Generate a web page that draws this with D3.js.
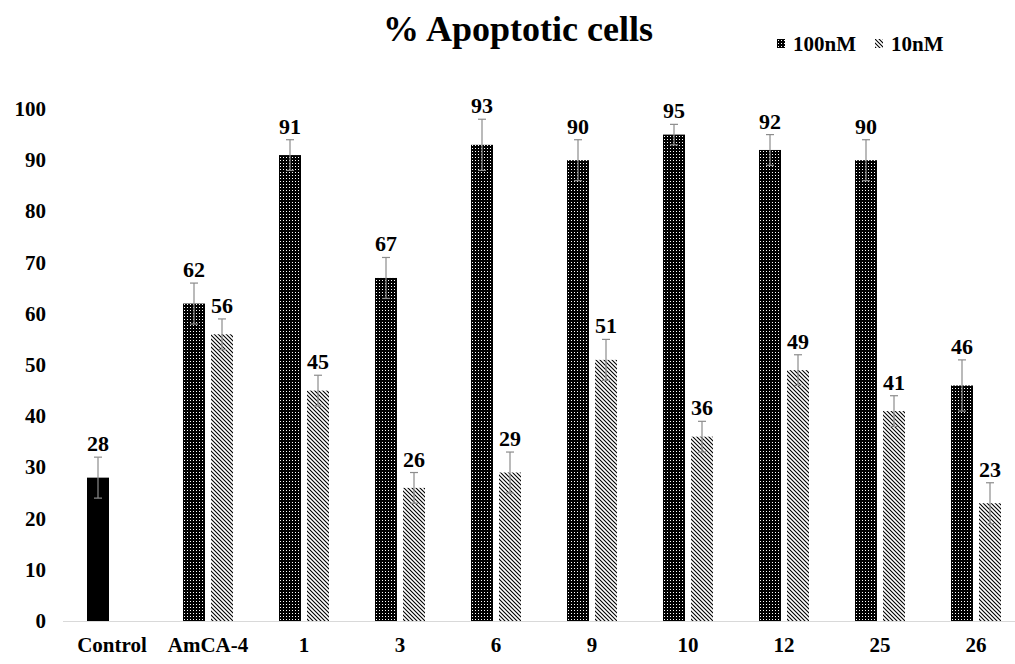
<!DOCTYPE html>
<html>
<head>
<meta charset="utf-8">
<script src="https://cdn.jsdelivr.net/npm/d3@7"></script>
<style>
  body { margin: 0; background: #fff; }
</style>
</head>
<body>
<div id="chart"></div>
<script>
// categories and values
var categories = ["Control", "AmCA-4", "1", "3", "6", "9", "10", "12", "25", "26"];
var high = [28, 62, 91, 67, 93, 90, 95, 92, 90, 46];          // 100nM (Control drawn solid)
var highErr = [4, 4, 3, 4, 5, 4, 2, 3, 4, 5];
var low = [null, 56, 45, 26, 29, 51, 36, 49, 41, 23];         // 10nM
var lowErr = [null, 3, 3, 3, 4, 4, 3, 3, 3, 4];
var yTicks = [0, 10, 20, 30, 40, 50, 60, 70, 80, 90, 100];

var width = 1015, height = 664;
var FONT = "Liberation Serif";

var svg = d3.select("#chart").append("svg")
    .attr("width", width)
    .attr("height", height);

// every label goes through here so the font is set on the node itself
function label(sel, size) {
    return sel.attr("font-family", FONT)
        .attr("font-weight", "bold")
        .attr("font-size", size)
        .attr("fill", "#000");
}

var defs = svg.append("defs");

// dotted fill for 100nM
var dots = defs.append("pattern")
    .attr("id", "dots")
    .attr("patternUnits", "userSpaceOnUse")
    .attr("width", 3).attr("height", 3);
dots.append("rect").attr("width", 3).attr("height", 3).attr("fill", "#000");
dots.append("rect").attr("x", 1).attr("y", 1).attr("width", 1).attr("height", 1).attr("fill", "#fff");

// hatched fill for 10nM
var hatch = defs.append("pattern")
    .attr("id", "hatch")
    .attr("patternUnits", "userSpaceOnUse")
    .attr("width", 4).attr("height", 4);
hatch.append("rect").attr("width", 4).attr("height", 4).attr("fill", "#fff");
hatch.append("path")
    .attr("d", "M-1,-1 L5,5 M-1,3 L1,5 M3,-1 L5,1")
    .attr("stroke", "#000")
    .attr("stroke-width", 1.1);

var x = d3.scaleBand()
    .domain(categories)
    .range([64, 1024])
    .padding(0);

var y = d3.scaleLinear()
    .domain([0, 100])
    .range([621, 109]);

var barW = 22, gap = 3;

// title
label(svg.append("text"), 36)
    .attr("x", 518)
    .attr("y", 41)
    .attr("text-anchor", "middle")
    .text("% Apoptotic cells");

// legend
var legend = [
    { name: "100nM", fill: "url(#dots)", x: 777 },
    { name: "10nM", fill: "url(#hatch)", x: 875 }
];
var lg = svg.selectAll(".legend").data(legend).enter().append("g")
    .attr("class", "legend")
    .attr("transform", function (d) { return "translate(" + d.x + ",39)"; });
lg.append("rect")
    .attr("width", 8).attr("height", 9)
    .attr("fill", function (d) { return d.fill; });
label(lg.append("text"), 21)
    .attr("x", 16)
    .attr("y", 12)
    .text(function (d) { return d.name; });

// y tick labels (no axis line)
label(svg.selectAll(".ytick").data(yTicks).enter().append("text"), 21)
    .attr("class", "ytick")
    .attr("x", 46)
    .attr("y", function (d) { return y(d) + 7; })
    .attr("text-anchor", "end")
    .text(function (d) { return d; });

// x axis baseline
svg.append("line")
    .attr("x1", 63).attr("x2", width)
    .attr("y1", y(0) + 0.5).attr("y2", y(0) + 0.5)
    .attr("stroke", "#d9d9d9")
    .attr("stroke-width", 1);

// category labels
label(svg.selectAll(".xlabel").data(categories).enter().append("text"), 21)
    .attr("class", "xlabel")
    .attr("x", function (d) { return x(d) + x.bandwidth() / 2; })
    .attr("y", 652)
    .attr("text-anchor", "middle")
    .text(function (d) { return d; });

// build bar records
var bars = [];
categories.forEach(function (c, i) {
    var cx = x(c) + x.bandwidth() / 2;
    bars.push({ cat: c, v: high[i], e: highErr[i], x0: cx - gap - barW,
        fill: i === 0 ? "#000" : "url(#dots)" });
    if (low[i] != null) {
        bars.push({ cat: c, v: low[i], e: lowErr[i], x0: cx + gap, fill: "url(#hatch)" });
    }
});

svg.selectAll(".bar").data(bars).enter().append("rect")
    .attr("class", "bar")
    .attr("x", function (d) { return d.x0; })
    .attr("y", function (d) { return y(d.v); })
    .attr("width", barW)
    .attr("height", function (d) { return y(0) - y(d.v); })
    .attr("fill", function (d) { return d.fill; });

// error bars
var eb = svg.selectAll(".err").data(bars).enter().append("g")
    .attr("class", "err")
    .attr("stroke", "#8c8c8c")
    .attr("stroke-width", 1.2);
eb.append("line")
    .attr("x1", function (d) { return d.x0 + barW / 2; })
    .attr("x2", function (d) { return d.x0 + barW / 2; })
    .attr("y1", function (d) { return y(d.v + d.e); })
    .attr("y2", function (d) { return y(d.v - d.e); });
eb.append("line")
    .attr("x1", function (d) { return d.x0 + barW / 2 - 4; })
    .attr("x2", function (d) { return d.x0 + barW / 2 + 4; })
    .attr("y1", function (d) { return y(d.v + d.e); })
    .attr("y2", function (d) { return y(d.v + d.e); });
eb.append("line")
    .attr("x1", function (d) { return d.x0 + barW / 2 - 4; })
    .attr("x2", function (d) { return d.x0 + barW / 2 + 4; })
    .attr("y1", function (d) { return y(d.v - d.e); })
    .attr("y2", function (d) { return y(d.v - d.e); });

// value labels
label(svg.selectAll(".val").data(bars).enter().append("text"), 22)
    .attr("class", "val")
    .attr("x", function (d) { return d.x0 + barW / 2; })
    .attr("y", function (d) { return y(d.v + d.e) - 6; })
    .attr("text-anchor", "middle")
    .text(function (d) { return d.v; });
</script>
</body>
</html>
